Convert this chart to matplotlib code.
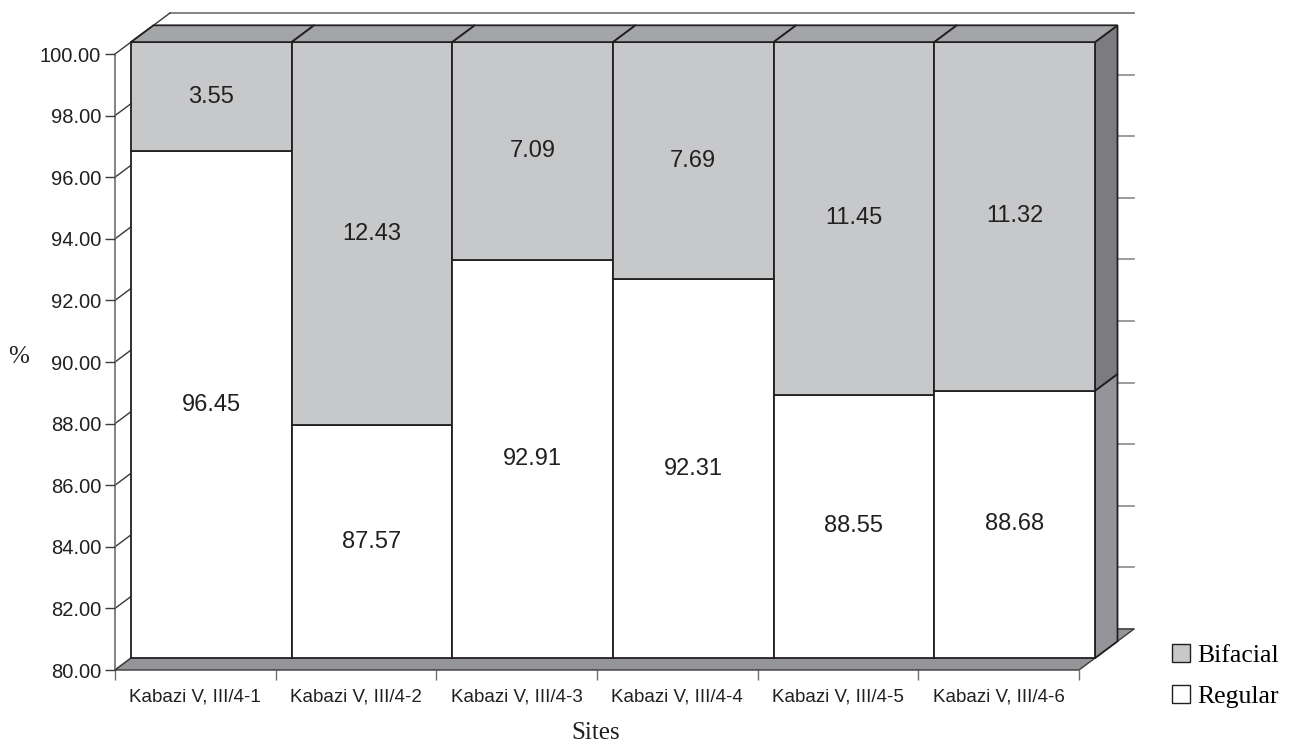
import matplotlib.pyplot as plt
from matplotlib.patches import Polygon, Patch

# data
sites = ['Kabazi V, III/4-1', 'Kabazi V, III/4-2', 'Kabazi V, III/4-3',
         'Kabazi V, III/4-4', 'Kabazi V, III/4-5', 'Kabazi V, III/4-6']
regular = [96.45, 87.57, 92.91, 92.31, 88.55, 88.68]
bifacial = [3.55, 12.43, 7.09, 7.69, 11.45, 11.32]
yticks = list(range(80, 101, 2))

# colours
edge = '#231f20'
c_bif = '#c7c8ca'
c_reg = 'white'
c_top = '#a4a5a8'
c_side_bif = '#7b7c7f'
c_side_reg = '#939598'
c_floor = '#939598'

sans = 'Liberation Sans'
serif = 'Liberation Serif'

fig = plt.figure(figsize=(12.97, 7.44), dpi=100)
ax = fig.add_axes([115/1297, 74/744, 964/1297, 616/744])
ax.set_xlim(0, 6)
ax.set_ylim(80, 100)

# oblique depth: full depth in data units (55 px right, 41 px up)
DX = 55 / (964 / 6)
DY = 41 / (616 / 20)
FRONT = 0.29
BACK = 0.70


def pt(x, y, d):
    return (x + d * DX, y + d * DY)


def face(pts, fc, z=3, ec=edge, lw=1.3):
    ax.add_patch(Polygon(pts, closed=True, facecolor=fc, edgecolor=ec,
                         linewidth=lw, clip_on=False, zorder=z,
                         joinstyle='miter'))


# back wall and left wall grid lines
for v in yticks:
    col = '#6d6e71' if v == 100 else '#8a8b8e'
    x0, y0 = pt(0, v, 1)
    x1, y1 = pt(6, v, 1)
    ax.plot([x0, x1], [y0, y1], color=col, lw=1.2, clip_on=False, zorder=1)
    x2, y2 = pt(0, v, 0)
    ax.plot([x2, x0], [y2, y0], color='#3a3a3a', lw=1.0, clip_on=False, zorder=1)

# floor
face([pt(0, 80, 0), pt(6, 80, 0), pt(6, 80, 1), pt(0, 80, 1)], c_floor, z=2,
     ec='#3a3a3a', lw=1.0)

# bars
for i in range(6):
    r = regular[i]
    segs = [(80, r, c_reg, c_side_reg), (r, 100, c_bif, c_side_bif)]
    for y0, y1, fc, sc in segs:
        face([pt(i + 1, y0, FRONT), pt(i + 1, y1, FRONT),
              pt(i + 1, y1, BACK), pt(i + 1, y0, BACK)], sc)
        face([pt(i, y0, FRONT), pt(i + 1, y0, FRONT),
              pt(i + 1, y1, FRONT), pt(i, y1, FRONT)], fc)
    face([pt(i, 100, FRONT), pt(i + 1, 100, FRONT),
          pt(i + 1, 100, BACK), pt(i, 100, BACK)], c_top)

    # value labels
    lx, ly = pt(i + 0.5, (80 + r) / 2, FRONT)
    ax.text(lx, ly, f'{regular[i]:.2f}', ha='center', va='center',
            fontsize=17, family=sans, color='#231f20', zorder=5)
    lx, ly = pt(i + 0.5, (r + 100) / 2, FRONT)
    ax.text(lx, ly, f'{bifacial[i]:.2f}', ha='center', va='center',
            fontsize=17, family=sans, color='#231f20', zorder=5)

# axes styling
for s in ['top', 'right', 'bottom']:
    ax.spines[s].set_visible(False)
ax.spines['left'].set_color('#6d6e71')
ax.spines['left'].set_linewidth(1.2)
ax.spines['left'].set_zorder(1)
ax.patch.set_visible(False)

ax.set_yticks(yticks)
ax.set_yticklabels([f'{v:.2f}' for v in yticks], family=sans, fontsize=14.5,
                   color='#231f20')
ax.tick_params(axis='y', length=7, width=1.0, color='#3a3a3a', pad=3)

ax.set_xticks(range(7))
ax.set_xticklabels([])
ax.set_xticks([i + 0.5 for i in range(6)], minor=True)
ax.set_xticklabels(sites, minor=True, family=sans, fontsize=13.5,
                   color='#231f20')
ax.tick_params(axis='x', which='major', length=7, width=1.0, color='#6d6e71')
ax.tick_params(axis='x', which='minor', length=0, pad=13)

fig.text(19/1297, 1 - 357/744, '%', ha='center', va='center',
         family=serif, fontsize=18, color='#231f20')
fig.text(596/1297, 1 - 733/744, 'Sites', ha='center', va='center',
         family=serif, fontsize=18, color='#231f20')

handles = [Patch(facecolor=c_bif, edgecolor=edge, label='Bifacial'),
           Patch(facecolor=c_reg, edgecolor=edge, label='Regular')]
fig.legend(handles=handles, loc='upper left',
           bbox_to_anchor=(1172/1297, 1 - 644/744), frameon=False,
           prop={'family': serif, 'size': 18.5}, handlelength=0.7,
           handleheight=0.7, handletextpad=0.3, labelspacing=0.72,
           borderpad=0, borderaxespad=0)

fig.savefig('out.png', dpi=100)
